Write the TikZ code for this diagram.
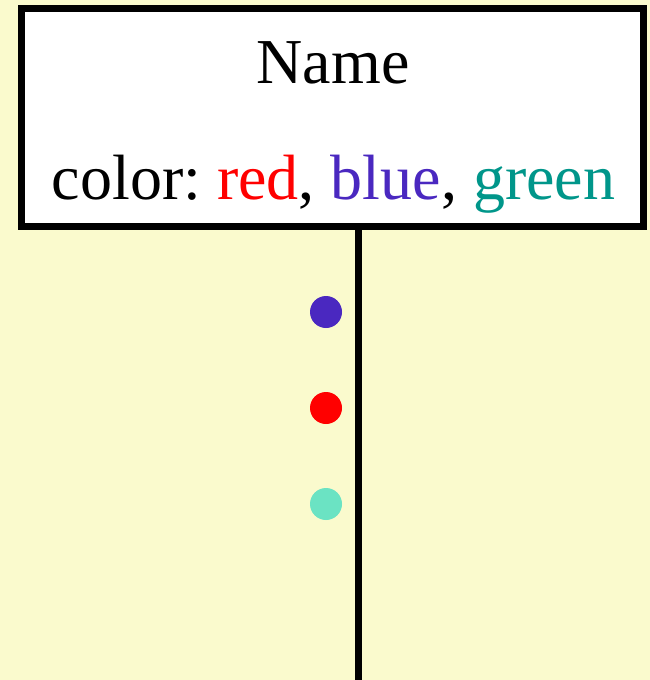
\documentclass[tikz,border=0pt]{standalone}
\usepackage{xcolor}
\usepackage{fontspec}
\setmainfont{Liberation Serif}
\usepackage{tikz}
\usetikzlibrary{positioning}
\definecolor{arkaSari}{HTML}{FAFACD}
\definecolor{kirmizi}{HTML}{FF0000}
\definecolor{mor}{HTML}{4A28C0}
\definecolor{koyuYesil}{HTML}{00968A}
\definecolor{acikYesil}{HTML}{6BE3C3}
\frenchspacing

\begin{document}
\begin{tikzpicture}[x=1pt,y=-1pt, every node/.style={font=\fontsize{64}{70}\selectfont},
  dot/.style={circle,inner sep=0pt,minimum size=32pt}]
\fill[arkaSari] (0,0) rectangle (650,680);
\useasboundingbox (0,0) rectangle (650,680);
\node[draw=black,fill=white,line width=7pt,minimum width=622pt,minimum height=218pt,inner sep=0pt] (box) at (332,117) {};
\node[anchor=base,inner sep=0pt] (name) at (333,83) {Name};
\node[anchor=base,inner sep=0pt] (colors) at (333.5,199) {color: \textcolor{kirmizi}{red}, \textcolor{mor}{blue}, \textcolor{koyuYesil}{green}};
\coordinate (bottom) at (358,680);
\draw[line width=7pt] (box.south -| bottom) -- (bottom);
\node[dot,fill=mor] (d1) at (326,312) {};
\node[dot,fill=kirmizi] (d2) at (326,408) {};
\node[dot,fill=acikYesil] (d3) at (326,504) {};
\end{tikzpicture}
\end{document}
